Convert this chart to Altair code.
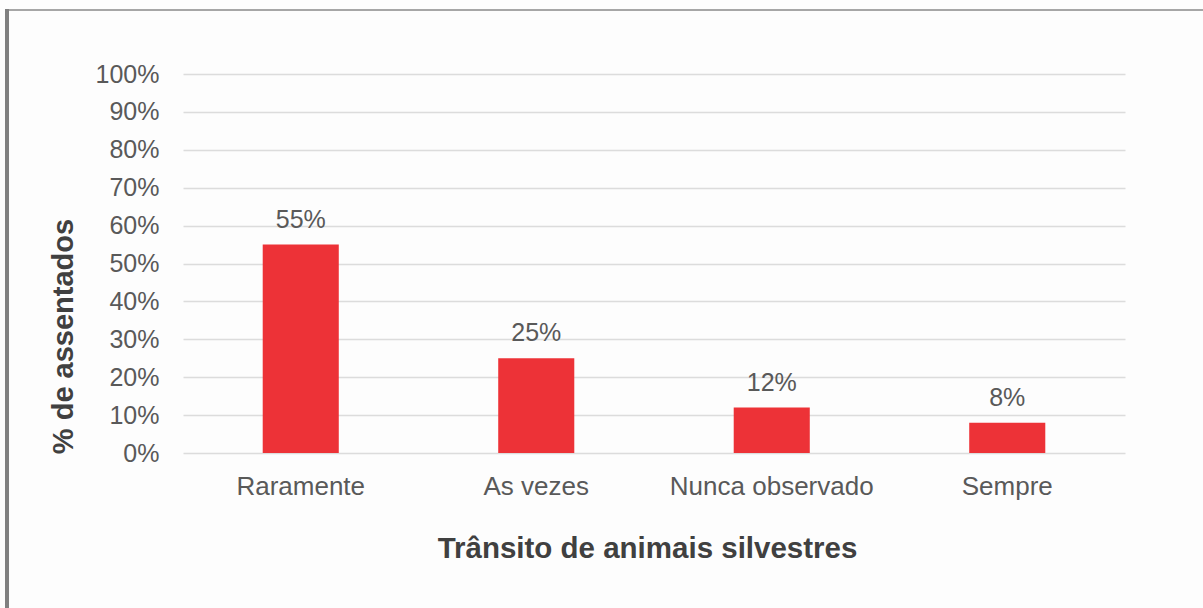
import altair as alt
import pandas as pd

categories = ["Raramente", "As vezes", "Nunca observado", "Sempre"]
values = [55, 25, 12, 8]
y_ticks = [0, 10, 20, 30, 40, 50, 60, 70, 80, 90, 100]

df = pd.DataFrame({"cat": categories, "val": values})
df["label"] = [f"{v}%" for v in values]

FONT = "Liberation Sans"
TXT = "#595959"

x_enc = alt.X(
    "cat:N",
    sort=categories,
    scale=alt.Scale(paddingInner=0.677, paddingOuter=0.3385),
    axis=alt.Axis(
        title="Trânsito de animais silvestres",
        labelAngle=0,
        labelFont=FONT,
        labelFontSize=26,
        labelColor=TXT,
        labelPadding=20,
        labelLimit=0,
        labelOverlap=False,
        ticks=False,
        domain=False,
        titleFont=FONT,
        titleFontSize=29.5,
        titleFontWeight="bold",
        titleColor="#404040",
        titleBaseline="alphabetic",
        titleX=464,
        titleY=104,
    ),
)
y_enc = alt.Y(
    "val:Q",
    scale=alt.Scale(domain=[0, 100], nice=False),
    axis=alt.Axis(
        title="% de assentados",
        values=y_ticks,
        labelExpr="datum.value + '%'",
        labelFont=FONT,
        labelFontSize=25,
        labelColor=TXT,
        labelPadding=24,
        labelOverlap=False,
        ticks=False,
        domain=False,
        gridColor="#DCDCDC",
        gridWidth=1.5,
        titleFont=FONT,
        titleFontSize=29,
        titleFontWeight="bold",
        titleColor="#404040",
        titleBaseline="alphabetic",
        titleAngle=270,
        titleX=-111,
        titleY=262,
    ),
)

base = alt.Chart(df).encode(x=x_enc, y=y_enc)

bars = base.mark_bar(color="#ED3237")
text = base.mark_text(
    font=FONT, fontSize=25, color=TXT, baseline="alphabetic", dy=-17
).encode(text="label:N")

frame_data = alt.Data(values=[{"k": 1}])
top_line = alt.Chart(frame_data).mark_rule(color="#A6A6A6", strokeWidth=2).encode(
    x=alt.value(-178), x2=alt.value(1020), y=alt.value(-64)
)
left_line = alt.Chart(frame_data).mark_rule(color="#808080", strokeWidth=4).encode(
    x=alt.value(-176), y=alt.value(-65), y2=alt.value(534)
)

chart = (
    alt.layer(bars, text, top_line, left_line)
    .properties(
        width=942,
        height=379,
        autosize=alt.AutoSizeParams(type="none"),
        padding={"left": 183, "top": 74, "right": 78, "bottom": 155},
        background="#FDFDFD",
    )
    .configure_view(stroke=None)
)

chart.save("out.html", embed_options={"renderer": "svg", "actions": False})
